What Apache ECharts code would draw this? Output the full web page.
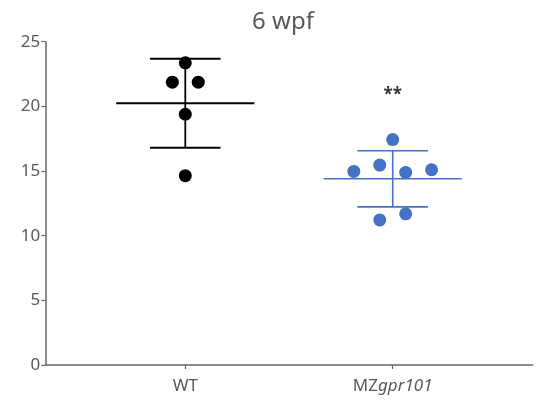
<!DOCTYPE html>
<html>
<head>
<meta charset="utf-8">
<script src="https://cdn.jsdelivr.net/npm/echarts@6/dist/echarts.min.js"></script>
<style>html,body{margin:0;padding:0;background:#fff;}#chart{width:542px;height:403px;}</style>
</head>
<body>
<div id="chart"></div>
<script>
const categories = ['WT', 'MZgpr101'];
const yTicks = [0, 5, 10, 15, 20, 25];
const wtValues = [23.37, 21.87, 21.87, 19.39, 14.64];
const wtJitter = [0, -0.0625, 0.0625, 0, 0];
const mzValues = [17.43, 14.97, 15.46, 14.89, 15.10, 11.22, 11.69];
const mzJitter = [0, -0.1875, -0.0625, 0.0625, 0.1875, -0.0625, 0.0625];
const groupMeans = [20.24, 14.40];
const groupSDs = [3.44, 2.17];
const significance = '**';
const significanceY = 20.9;

const colors = ['#000000', '#4472C4'];
const font = '"Noto Sans", Lato, sans-serif';
const labelColor = '#595959';

const chart = echarts.init(document.getElementById('chart'), null, {renderer: 'canvas'});

function statSeries(idx) {
  return {
    type: 'custom',
    z: 1,
    silent: true,
    data: [[idx + 1, groupMeans[idx], groupSDs[idx]]],
    renderItem: function (params, api) {
      const x = api.value(0), m = api.value(1), s = api.value(2);
      const c = api.coord;
      const st = {stroke: colors[idx], lineWidth: idx === 0 ? 1.8 : 1.6};
      const line = (p1, p2) => ({type: 'line', shape: {x1: p1[0], y1: p1[1], x2: p2[0], y2: p2[1]}, style: st});
      return {type: 'group', children: [
        line(c([x - 0.333, m]), c([x + 0.333, m])),
        line(c([x, m - s]), c([x, m + s])),
        line(c([x - 0.17, m + s]), c([x + 0.17, m + s])),
        line(c([x - 0.17, m - s]), c([x + 0.17, m - s]))
      ]};
    }
  };
}

const option = {
  backgroundColor: '#fff',
  animation: false,
  title: {
    text: '6 wpf',
    left: 278, top: 5, textAlign: 'center',
    textStyle: {fontFamily: font, fontSize: 24, fontWeight: 'normal', color: labelColor}
  },
  grid: {left: 45.3, right: 9.3, top: 41.7, bottom: 38, containLabel: false},
  xAxis: {
    type: 'value', min: 0.325, max: 2.675,
    splitLine: {show: false},
    axisLine: {show: true, lineStyle: {color: '#666', width: 1.5}},
    axisTick: {show: true, customValues: [1, 2], length: 4, lineStyle: {color: '#666', width: 1.2}},
    axisLabel: {
      customValues: [1, 2], margin: 13,
      fontFamily: font, fontSize: 17, color: labelColor,
      formatter: function (v) {
        const name = categories[Math.round(v) - 1];
        if (name.indexOf('MZ') === 0) return '{n|MZ}{i|' + name.slice(2) + '}';
        return name;
      },
      rich: {
        n: {fontStyle: 'normal', fontFamily: font, fontSize: 17, color: labelColor},
        i: {fontStyle: 'italic', fontFamily: font, fontSize: 17, color: labelColor}
      }
    }
  },
  yAxis: {
    type: 'value', min: yTicks[0], max: yTicks[yTicks.length - 1], interval: 5,
    splitLine: {show: false},
    axisLine: {show: true, lineStyle: {color: '#666', width: 1.5}},
    axisTick: {show: true, length: 4, lineStyle: {color: '#666', width: 1.2}},
    axisLabel: {margin: 5, fontFamily: font, fontSize: 17, color: labelColor}
  },
  series: [
    statSeries(0),
    statSeries(1),
    {
      type: 'scatter', z: 3, symbolSize: 13,
      itemStyle: {color: colors[0], opacity: 1},
      data: wtValues.map((v, i) => [1 + wtJitter[i], v])
    },
    {
      type: 'scatter', z: 3, symbolSize: 13,
      itemStyle: {color: colors[1], opacity: 1},
      data: mzValues.map((v, i) => [2 + mzJitter[i], v])
    },
    {
      type: 'scatter', z: 4, symbolSize: 1, silent: true,
      itemStyle: {color: 'rgba(0,0,0,0)'},
      label: {show: true, position: 'inside', formatter: significance,
        fontFamily: font, fontSize: 17, fontWeight: 'bold', color: '#000'},
      data: [[2, significanceY]]
    }
  ]
};
chart.setOption(option);
</script>
</body>
</html>
